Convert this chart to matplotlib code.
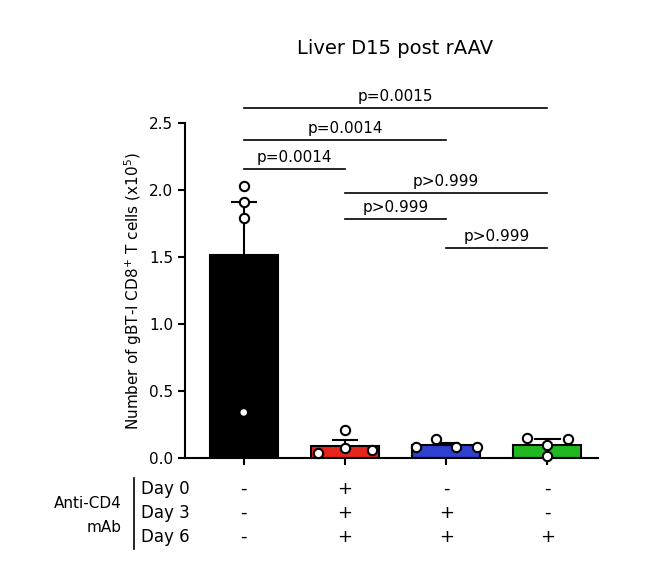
import matplotlib
matplotlib.use("Agg")
import matplotlib.pyplot as plt
import numpy as np

groups = ["G1", "G2", "G3", "G4"]
colors = ["#000000", "#e8251c", "#2f3fd0", "#1fb81f"]
points = [[2.03, 1.91, 1.79, 0.34],
          [0.21, 0.077, 0.06, 0.037],
          [0.14, 0.085, 0.085, 0.085],
          [0.15, 0.14, 0.10, 0.015]]
means = [1.515, 0.092, 0.095, 0.10]
err_top = [1.91, 0.134, 0.11, 0.14]
comparisons = [(0, 3, 2.61, "p=0.0015"), (0, 2, 2.37, "p=0.0014"), (0, 1, 2.16, "p=0.0014"),
               (1, 3, 1.98, "p>0.999"), (1, 2, 1.78, "p>0.999"), (2, 3, 1.57, "p>0.999")]
row_labels = ["Day 0", "Day 3", "Day 6"]
signs = [["-", "+", "-", "-"], ["-", "+", "+", "-"], ["-", "+", "+", "+"]]

W, H = 652, 570
fig = plt.figure(figsize=(W/100, H/100), dpi=100)
L, R, T, B = 185, 598, 123, 458
ax = fig.add_axes([L/W, 1-B/H, (R-L)/W, (B-T)/H])
x = np.arange(4)
ax.set_xlim(-0.58, 3.5)
ax.set_ylim(0, 2.5)
offsets = [[0, 0, 0, 0], [0.0, 0.0, 0.27, -0.27], [-0.1, 0.1, 0.3, -0.3], [-0.2, 0.2, 0.0, 0.0]]
for i in range(4):
    ax.bar(x[i], means[i], width=0.67, color=colors[i], edgecolor="black", linewidth=1.5, zorder=2)
    ax.plot([x[i], x[i]], [means[i], err_top[i]], color="black", lw=1.5, zorder=3)
    ax.plot([x[i]-0.12, x[i]+0.12], [err_top[i]]*2, color="black", lw=1.5, zorder=3)
    for p, o in zip(points[i], offsets[i]):
        if i == 0 and p < means[i]:
            ax.scatter(x[i]+o, p, s=22, facecolor="white", edgecolor="none", zorder=4)
        else:
            ax.scatter(x[i]+o, p, s=45, facecolor="white", edgecolor="black", linewidth=1.5, zorder=4, clip_on=False)
for a, b, yv, t in comparisons:
    ax.plot([x[a], x[b]], [yv, yv], color="black", lw=1.2, clip_on=False)
    ax.text((x[a]+x[b])/2, yv+0.03, t, ha="center", va="bottom", fontsize=11)
ax.spines["top"].set_visible(False)
ax.spines["right"].set_visible(False)
ax.spines["left"].set_linewidth(1.5)
ax.spines["bottom"].set_linewidth(1.5)
ax.set_yticks([0, 0.5, 1.0, 1.5, 2.0, 2.5])
ax.set_yticklabels(["0.0", "0.5", "1.0", "1.5", "2.0", "2.5"], fontsize=11)
ax.set_xticks(x)
ax.set_xticklabels([])
ax.tick_params(width=1.5, length=5)
ax.set_ylabel("Number of gBT-I CD8$^{+}$ T cells (x10$^{5}$)", fontsize=11)
fig.text(395/W, 1-48/H, "Liver D15 post rAAV", ha="center", va="center", fontsize=14)

rows_y = [489, 513, 537]
for r, yy in enumerate(rows_y):
    fig.text(141/W, 1-yy/H, row_labels[r], ha="left", va="center", fontsize=12)
    for i in range(4):
        fig.text((L + (x[i]+0.58)/(4.08)*(R-L))/W, 1-yy/H, signs[r][i], ha="center", va="center", fontsize=13)
fig.text(88/W, 1-503/H, "Anti-CD4", ha="center", va="center", fontsize=11)
fig.text(104/W, 1-527/H, "mAb", ha="center", va="center", fontsize=11)
fig.add_artist(plt.Line2D([134/W, 134/W], [1-478/H, 1-549/H], color="black", lw=1.2))
fig.savefig("out.png", dpi=100)
